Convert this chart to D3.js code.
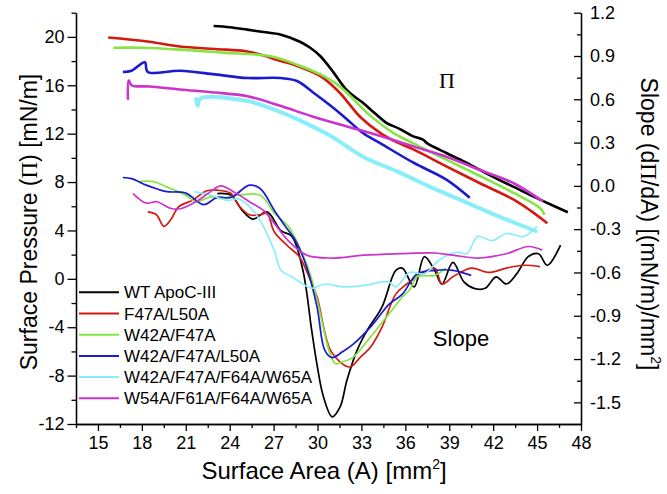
<!DOCTYPE html>
<html>
<head>
<meta charset="utf-8">
<script src="https://cdn.jsdelivr.net/npm/d3@7"></script>
<style>
  body { margin: 0; background: #fff; }
  text { font-family: "Liberation Sans", Arial, sans-serif; fill: #000; }
</style>
</head>
<body>
<svg id="chart" width="667" height="494"></svg>
<script>
// surface pressure isotherms [area, pressure]
const wtPressure = [[22.9,20.9],[24,20.8],[25.2,20.6],[26.3,20.4],[27.45,20.2],[28.2,19.9],[28.8,19.6],[29.5,19.1],[30.2,18.4],[31.1,17.05],[32,15.6],[33.1,14.55],[34,13.6],[34.7,12.9],[35.6,12.4],[36.5,11.8],[37.2,11.5],[37.5,11.2],[38.8,10.4],[40,9.7],[41.1,9],[42.2,8.3],[43.4,7.6],[44.5,6.95],[45.65,6.3],[47.1,5.5]];
const redPressure = [[15.7,19.95],[17,19.8],[18.5,19.6],[20.6,19.2],[23,19],[25.2,18.8],[26.5,18.4],[27.2,18.1],[28.6,17.6],[30.2,16.75],[31.5,15.4],[32.2,14.4],[32.9,13.4],[34.3,12.05],[35.4,11.3],[36.55,10.7],[38.8,9.3],[41.1,7.9],[43.4,6.55],[44.6,5.6],[45.7,4.6]];
const greenPressure = [[16.05,19.1],[18,19.1],[20.6,18.95],[23.5,18.7],[26.8,18.4],[28.6,17.7],[30.2,16.9],[31.2,16.2],[32,15.4],[33.4,13.7],[35.2,12.05],[36.55,11.2],[38.8,9.85],[41.1,8.5],[43.4,7.1],[45.2,5.85],[45.5,5.3]];
const bluePressure = [[16.7,17.1],[17.3,17.2],[18.2,17.9],[18.4,17.1],[20.6,17.2],[23,16.9],[25.2,16.6],[27.45,16.6],[28.6,16.35],[29.7,15.4],[30.9,14.3],[32,13.2],[33.1,12.05],[34.3,11.2],[36.55,9.6],[38.8,8.2],[40.4,6.7]];
const cyanPressure = [[21.7,15],[21.8,14.3],[22,14.9],[25.2,14.7],[27,14],[28.6,13.2],[30.9,11.8],[33.1,10.1],[35.4,8.9],[37.7,7.6],[40,6.4],[42.5,5.1],[45,3.9]];
const magentaPressure = [[17.05,14.8],[17.1,16.4],[17.3,16],[18.5,15.9],[20.6,15.65],[23,15.4],[25.2,15.1],[27.45,14.3],[29.7,13.4],[32,12.6],[34.3,11.8],[36.55,10.95],[38.8,10.1],[41.1,9],[43.4,7.9],[45.4,6.4]];

// slope curves dPi/dA [area, slope]
const wtSlope = [[23.15,-0.053],[24.1,-0.065],[24.85,-0.17],[25.6,-0.23],[26.55,-0.18],[27.5,-0.31],[28.25,-0.35],[29,-0.585],[29.6,-1.0],[29.95,-1.23],[30.4,-1.46],[31,-1.6],[31.55,-1.53],[32,-1.35],[32.7,-1.14],[33.4,-1.0],[34.4,-0.84],[35.35,-0.585],[35.8,-0.57],[36.6,-0.7],[37.3,-0.49],[38,-0.585],[38.5,-0.68],[39.25,-0.53],[40,-0.665],[40.7,-0.71],[41.45,-0.71],[42.2,-0.63],[42.9,-0.68],[43.6,-0.61],[44.4,-0.49],[45.1,-0.47],[45.7,-0.55],[46.6,-0.41]];
const redSlope = [[18.4,-0.18],[19,-0.2],[19.5,-0.28],[20,-0.23],[20.5,-0.145],[21.45,-0.1],[22.4,-0.035],[23.15,-0.03],[24.1,-0.053],[24.6,-0.134],[25.35,-0.2],[26.1,-0.2],[26.55,-0.19],[27.05,-0.32],[28,-0.42],[28.75,-0.49],[29.5,-0.65],[29.97,-0.77],[30.95,-1.15],[32.2,-1.255],[32.9,-1.19],[33.6,-1.12],[34.4,-0.98],[35.35,-0.75],[36.1,-0.68],[36.8,-0.63],[38,-0.57],[38.5,-0.68],[39.25,-0.63],[40.5,-0.57],[41.7,-0.6],[42.9,-0.57],[44.1,-0.55],[45.2,-0.56]];
const greenSlope = [[17.8,0.03],[18.8,0.03],[19.7,-0.007],[21,-0.065],[21.7,-0.11],[22.7,-0.076],[23.4,-0.087],[24.6,-0.065],[26.1,-0.065],[27.05,-0.19],[28,-0.28],[28.75,-0.42],[29.5,-0.61],[29.97,-0.79],[31.2,-1.23],[31.7,-1.22],[32.4,-1.19],[33.6,-1.05],[34.9,-0.885],[35.8,-0.77],[36.3,-0.72],[36.8,-0.63],[38,-0.62],[38.75,-0.57]];
const blueSlope = [[16.7,0.058],[17.3,0.05],[18.3,0.005],[19,-0.02],[19.7,-0.04],[21,-0.05],[22.2,-0.13],[23.15,-0.08],[24.1,-0.08],[25.35,0.005],[26.1,-0.02],[27.05,-0.17],[27.8,-0.28],[28.5,-0.38],[29.25,-0.56],[29.97,-0.84],[30.5,-1.14],[31,-1.19],[31.7,-1.15],[32.4,-1.1],[33.6,-0.98],[34.9,-0.82],[35.8,-0.75],[36.8,-0.61],[38,-0.585],[39.25,-0.585],[40.5,-0.62]];
const cyanSlope = [[21.6,-0.04],[22.7,-0.065],[23.9,-0.1],[24.6,-0.09],[25.6,-0.17],[26.3,-0.28],[27.05,-0.45],[27.5,-0.585],[28.25,-0.63],[29,-0.68],[29.6,-0.71],[30.5,-0.68],[31.7,-0.7],[33.15,-0.69],[34.85,-0.665],[35.35,-0.7],[36.3,-0.6],[37.3,-0.61],[38.3,-0.515],[39.5,-0.46],[40.2,-0.47],[40.95,-0.35],[41.9,-0.38],[42.9,-0.33],[44.1,-0.35],[45,-0.28]];
const magentaSlope = [[17.4,-0.053],[18.3,-0.12],[19,-0.11],[20,-0.157],[20.7,-0.157],[21.7,-0.11],[22.7,-0.04],[23.4,0],[24.4,-0.05],[25.35,-0.11],[26.3,-0.17],[27.05,-0.26],[28,-0.38],[29.25,-0.48],[30.95,-0.5],[33.15,-0.48],[35.6,-0.47],[38,-0.465],[39.25,-0.48],[40.95,-0.5],[42.9,-0.47],[44.4,-0.42],[45.35,-0.445]];

const seriesNames = ["WT ApoC-III", "F47A/L50A", "W42A/F47A", "W42A/F47A/L50A", "W42A/F47A/F64A/W65A", "W54A/F61A/F64A/W65A"];
const seriesColors = ["#000000", "#d41a10", "#86e444", "#1a1ad0", "#8aeefa", "#cc33cc"];
const pressureData = [wtPressure, redPressure, greenPressure, bluePressure, cyanPressure, magentaPressure];
const slopeData = [wtSlope, redSlope, greenSlope, blueSlope, cyanSlope, magentaSlope];

const xTicks = [15, 18, 21, 24, 27, 30, 33, 36, 39, 42, 45, 48];
const leftTicks = [-12, -8, -4, 0, 4, 8, 12, 16, 20];
const rightTicks = [-1.5, -1.2, -0.9, -0.6, -0.3, 0.0, 0.3, 0.6, 0.9, 1.2];

const svg = d3.select("#chart");
const plotL = 76, plotR = 581, plotT = 12.7, plotB = 424;

const x = d3.scaleLinear().domain([13.5, 48]).range([plotL, plotR]);
const yL = d3.scaleLinear().domain([-12, 22]).range([plotB, plotT]);
const yR = d3.scaleLinear().domain([-1.65, 1.2]).range([plotB, plotT]);

const xMinor = xTicks.map(d => d - 1.5);
const leftMinor = leftTicks.map(d => d + 2);
const rightMinor = rightTicks.map(d => d - 0.15).filter(d => d > -1.65);

function styleAxis(g) {
  g.selectAll("path.domain").attr("stroke", "#000").attr("stroke-width", 1.3);
  g.selectAll(".tick line").attr("stroke", "#000").attr("stroke-width", 1.3);
  g.selectAll(".tick text").style("font-family", "'Liberation Sans', Arial, sans-serif").attr("font-size", 18).attr("fill", "#000");
}

// curves
const line = (ys) => d3.line().x(d => x(d[0])).y(d => ys(d[1])).curve(d3.curveCatmullRom.alpha(0.5));

pressureData.forEach((s, i) => {
  svg.append("path").datum(s)
    .attr("fill", "none")
    .attr("stroke", seriesColors[i])
    .attr("stroke-width", i === 4 ? 4 : 2.6)
    .attr("stroke-linejoin", "round")
    .attr("d", line(yL));
});
slopeData.forEach((s, i) => {
  svg.append("path").datum(s)
    .attr("fill", "none")
    .attr("stroke", seriesColors[i])
    .attr("stroke-width", 1.7)
    .attr("d", line(yR));
});

// axes
const gx = svg.append("g").attr("transform", `translate(0,${plotB})`)
  .call(d3.axisBottom(x).tickValues(xTicks).tickSize(7).tickSizeOuter(0).tickPadding(5).tickFormat(d => d));
svg.append("g").attr("transform", `translate(0,${plotB})`)
  .call(d3.axisBottom(x).tickValues(xMinor).tickSize(4).tickSizeOuter(0).tickFormat(""))
  .call(styleAxis);
styleAxis(gx);

const gl = svg.append("g").attr("transform", `translate(${plotL},0)`)
  .call(d3.axisLeft(yL).tickValues(leftTicks).tickSize(8.5).tickSizeOuter(0).tickPadding(3).tickFormat(d => d));
svg.append("g").attr("transform", `translate(${plotL},0)`)
  .call(d3.axisLeft(yL).tickValues(leftMinor).tickSize(4.5).tickSizeOuter(0).tickFormat(""))
  .call(styleAxis);
styleAxis(gl);

const gr = svg.append("g").attr("transform", `translate(${plotR},0)`)
  .call(d3.axisRight(yR).tickValues(rightTicks).tickSizeInner(-7).tickSizeOuter(0).tickPadding(9).tickFormat(d => d.toFixed(1)));
svg.append("g").attr("transform", `translate(${plotR},0)`)
  .call(d3.axisRight(yR).tickValues(rightMinor).tickSizeInner(-4).tickSizeOuter(0).tickFormat(""))
  .call(styleAxis);
styleAxis(gr);

// titles
const xt = svg.append("text").attr("x", 324).attr("y", 479)
  .attr("text-anchor", "middle").attr("font-size", 24);
xt.append("tspan").text("Surface Area (A) [mm");
xt.append("tspan").attr("font-size", 14).attr("dy", -10).text("2");
xt.append("tspan").attr("dy", 10).text("]");

const yt = svg.append("text").attr("transform", "translate(37,222) rotate(-90)")
  .attr("text-anchor", "middle").attr("font-size", 23);
yt.append("tspan").text("Surface Pressure (");
yt.append("tspan").style("font-family", "'Liberation Serif', 'DejaVu Serif', serif").text("\u03A0");
yt.append("tspan").text(") [mN/m]");

const rt = svg.append("text").attr("transform", "translate(641,224) rotate(90)")
  .attr("text-anchor", "middle").attr("font-size", 23);
rt.append("tspan").text("Slope (d");
rt.append("tspan").style("font-family", "'Liberation Serif', 'DejaVu Serif', serif").text("\u03A0");
rt.append("tspan").text("/dA) [(mN/m)/mm");
rt.append("tspan").attr("font-size", 14).attr("dy", -10).text("2");
rt.append("tspan").attr("dy", 10).text("]");

// annotations
svg.append("text").attr("x", 447).attr("y", 88).attr("text-anchor", "middle")
  .attr("font-size", 22).style("font-family", "'Liberation Serif', 'DejaVu Serif', serif").text("\u03A0");
svg.append("text").attr("x", 461).attr("y", 346).attr("text-anchor", "middle")
  .attr("font-size", 22).text("Slope");

// legend
seriesNames.forEach((name, i) => {
  const ly = 292.3 + i * 21.2;
  svg.append("line").attr("x1", 79).attr("x2", 119).attr("y1", ly).attr("y2", ly)
    .attr("stroke", seriesColors[i]).attr("stroke-width", 2);
  svg.append("text").attr("x", 124).attr("y", ly).attr("dy", "0.36em")
    .attr("font-size", 17).text(name);
});
</script>
</body>
</html>
